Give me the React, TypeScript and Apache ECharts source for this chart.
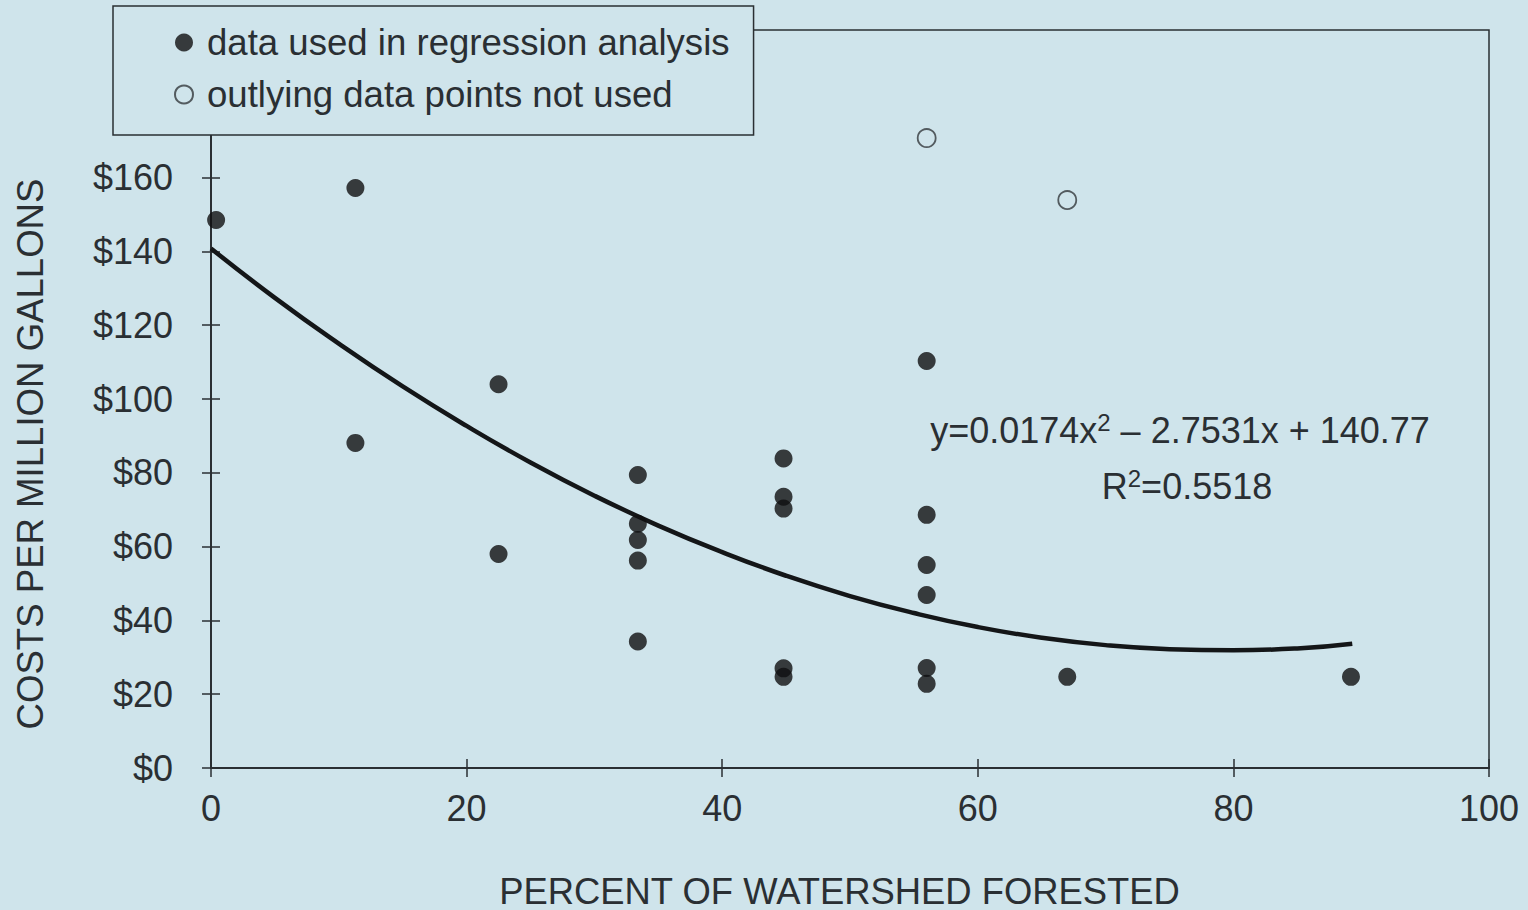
import React, { useEffect, useRef } from "react";
import * as echarts from "echarts";

// ---- data ----
const usedPoints: [number, number][] = [
  [0.4, 148.5],
  [11.3, 157.2],
  [11.3, 88.1],
  [22.5, 104],
  [22.5, 58],
  [33.4, 79.4],
  [33.4, 66.2],
  [33.4, 61.8],
  [33.4, 56.2],
  [33.4, 34.3],
  [44.8, 83.9],
  [44.8, 73.5],
  [44.8, 70.3],
  [44.8, 27.0],
  [44.8, 24.7],
  [56, 110.3],
  [56, 68.6],
  [56, 55],
  [56, 46.9],
  [56, 27.1],
  [56, 22.8],
  [67, 24.7],
  [89.2, 24.7],
];
const outlierPoints: [number, number][] = [
  [56, 170.7],
  [67, 153.9],
];
// trend curve
const trendX = [0, 5, 10, 15, 20, 25, 30, 35, 40, 45, 50, 55, 60, 65, 70, 75, 80, 85, 89.3];
const trendY = [140.8, 127.4, 115, 103.4, 92.7, 82.8, 73.8, 65.7, 58.5, 52.1, 46.6, 42, 38.2, 35.3, 33.3, 32.2, 31.9, 32.4, 33.7];
const xTicks = { min: 0, max: 100, interval: 20 };
const yTicks = { min: 0, max: 200, interval: 20, labelMax: 160 };
const legendNames = ["data used in regression analysis", "outlying data points not used"];
const xTitle = "PERCENT OF WATERSHED FORESTED";
const yTitle = "COSTS PER MILLION GALLONS";
const equationLine = ["y=0.0174x", "2", " – 2.7531x + 140.77"];
const rSquaredLine = ["R", "2", "=0.5518"];

const BG = "#cfe4eb";
const INK = "#2a2f33";
const FONT = '"Liberation Sans", Arial, sans-serif';

export default function App() {
  const ref = useRef<HTMLDivElement>(null);

  useEffect(() => {
    document.body.style.margin = "0";
    document.body.style.background = BG;
    if (!ref.current) return;
    const chart = echarts.init(ref.current, undefined, { renderer: "svg" });

    const axisLineStyle = { color: INK, width: 2 };
    const tickStyle = { color: INK, width: 1.5 };
    const rich = {
      n: { fontSize: 36, fontFamily: FONT, fill: INK, lineHeight: 40 },
      s: { fontSize: 24, fontFamily: FONT, fill: INK, lineHeight: 24, verticalAlign: "top" },
    };

    const option: any = {
      animation: false,
      backgroundColor: BG,
      textStyle: { fontFamily: FONT },
      grid: {
        left: 211,
        right: 39,
        top: 30,
        bottom: 142,
        containLabel: false,
        outerBoundsMode: "none",
        show: true,
        borderColor: INK,
        borderWidth: 1.5,
        backgroundColor: "transparent",
      },
      legend: {
        data: legendNames.map((n) => ({ name: n, icon: "circle" })),
        orient: "vertical",
        left: 113,
        top: 6,
        itemWidth: 18,
        itemHeight: 18,
        itemGap: 15,
        padding: [18, 24, 22, 61],
        borderColor: INK,
        borderWidth: 1.5,
        backgroundColor: BG,
        selectedMode: false,
        textStyle: {
          fontSize: 36.6,
          fontFamily: FONT,
          color: INK,
          lineHeight: 36,
          padding: [0, 0, 0, 9],
        },
      },
      xAxis: [
        {
          type: "value",
          min: xTicks.min,
          max: xTicks.max,
          interval: xTicks.interval,
          position: "bottom",
          name: xTitle,
          nameLocation: "middle",
          nameGap: 105,
          nameTextStyle: {
            fontSize: 36.4,
            fontFamily: FONT,
            color: INK,
            padding: [0, 21, 0, 0],
          },
          axisLine: { show: true, lineStyle: axisLineStyle },
          axisTick: { show: true, length: 9, lineStyle: tickStyle },
          axisLabel: { fontSize: 36, margin: 22, color: INK, fontFamily: FONT },
          splitLine: { show: false },
        },
        {
          type: "value",
          min: xTicks.min,
          max: xTicks.max,
          interval: xTicks.interval,
          position: "bottom",
          axisLine: { show: false },
          axisTick: { show: true, inside: true, length: 9, lineStyle: tickStyle },
          axisLabel: { show: false },
          splitLine: { show: false },
        },
      ],
      yAxis: [
        {
          type: "value",
          min: yTicks.min,
          max: yTicks.max,
          interval: yTicks.interval,
          position: "left",
          axisLine: { show: true, lineStyle: axisLineStyle },
          axisTick: { show: true, length: 9, lineStyle: tickStyle },
          axisLabel: {
            fontSize: 36,
            margin: 38,
            color: INK,
            fontFamily: FONT,
            formatter: (v: number) => (v <= yTicks.labelMax ? "$" + v : ""),
          },
          splitLine: { show: false },
        },
        {
          type: "value",
          min: yTicks.min,
          max: yTicks.max,
          interval: yTicks.interval,
          position: "left",
          axisLine: { show: false },
          axisTick: { show: true, inside: true, length: 9, lineStyle: tickStyle },
          axisLabel: { show: false },
          splitLine: { show: false },
        },
      ],
      graphic: [
        {
          type: "text",
          x: 30,
          y: 454,
          rotation: Math.PI / 2,
          style: {
            text: yTitle,
            font: `36.6px ${FONT}`,
            fill: INK,
            align: "center",
            verticalAlign: "middle",
          },
        },
        {
          type: "text",
          x: 1180,
          y: 430,
          style: {
            text: `{n|${equationLine[0]}}{s|${equationLine[1]}}{n|${equationLine[2]}}`,
            align: "center",
            verticalAlign: "middle",
            rich,
          },
        },
        {
          type: "text",
          x: 1187,
          y: 486,
          style: {
            text: `{n|${rSquaredLine[0]}}{s|${rSquaredLine[1]}}{n|${rSquaredLine[2]}}`,
            align: "center",
            verticalAlign: "middle",
            rich,
          },
        },
      ],
      series: [
        {
          name: "trend",
          type: "line",
          data: trendX.map((x, i) => [x, trendY[i]]),
          smooth: true,
          showSymbol: false,
          silent: true,
          clip: false,
          lineStyle: { color: "#141618", width: 4.5 },
          z: 2,
        },
        {
          name: legendNames[0],
          type: "scatter",
          data: usedPoints,
          symbol: "circle",
          symbolSize: 18,
          clip: false,
          itemStyle: { color: "#0f0f10" },
          z: 3,
        },
        {
          name: legendNames[1],
          type: "scatter",
          data: outlierPoints,
          symbol: "circle",
          symbolSize: 18,
          clip: false,
          itemStyle: { color: "rgba(0,0,0,0)", borderColor: "#33383c", borderWidth: 1.8 },
          z: 3,
        },
      ],
    };

    chart.setOption(option);
    return () => chart.dispose();
  }, []);

  return (
    <div
      ref={ref}
      style={{ position: "absolute", left: 0, top: 0, width: 1528, height: 910, background: BG }}
    />
  );
}
